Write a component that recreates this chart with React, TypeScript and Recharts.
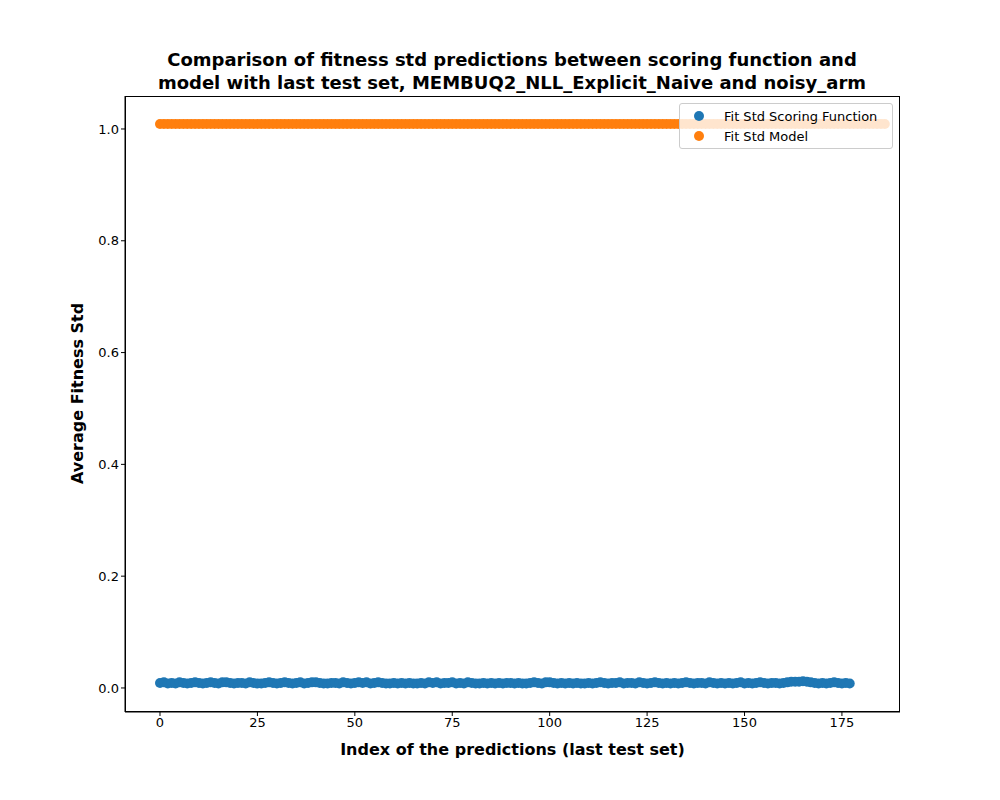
import { ScatterChart, Scatter, XAxis, YAxis } from 'recharts'

// Fit Std Scoring Function (index 0..186), 11 rows of 17
const scoringStd = [
  0.009, 0.010, 0.008, 0.009, 0.008, 0.010, 0.009, 0.008, 0.009, 0.010, 0.009, 0.008, 0.009, 0.010, 0.009, 0.008, 0.010,
  0.010, 0.009, 0.008, 0.009, 0.009, 0.008, 0.010, 0.009, 0.008, 0.008, 0.009, 0.010, 0.009, 0.008, 0.009, 0.010,
  0.009, 0.008, 0.009, 0.010, 0.008, 0.009, 0.010, 0.010, 0.009, 0.008, 0.008, 0.009, 0.009, 0.008, 0.010, 0.009,
  0.008, 0.009, 0.010, 0.009, 0.010, 0.008, 0.009, 0.010, 0.009, 0.008, 0.008, 0.009, 0.008, 0.009, 0.008, 0.009,
  0.008, 0.008, 0.009, 0.008, 0.010, 0.009, 0.010, 0.008, 0.009, 0.009, 0.010, 0.008, 0.009, 0.008, 0.010, 0.009,
  0.008, 0.008, 0.009, 0.008, 0.009, 0.008, 0.009, 0.008, 0.009, 0.009, 0.008, 0.009, 0.008, 0.008, 0.009, 0.010,
  0.009, 0.008, 0.010, 0.010, 0.009, 0.008, 0.009, 0.008, 0.009, 0.008, 0.009, 0.008, 0.008, 0.009, 0.008, 0.009,
  0.010, 0.009, 0.008, 0.009, 0.009, 0.010, 0.008, 0.009, 0.009, 0.008, 0.010, 0.009, 0.008, 0.009, 0.010, 0.009,
  0.008, 0.009, 0.008, 0.009, 0.008, 0.009, 0.010, 0.009, 0.008, 0.009, 0.009, 0.008, 0.010, 0.009, 0.008, 0.009,
  0.008, 0.009, 0.008, 0.009, 0.010, 0.008, 0.009, 0.008, 0.009, 0.010, 0.009, 0.008, 0.009, 0.009, 0.008, 0.009,
  0.010, 0.011, 0.011, 0.011, 0.012, 0.011, 0.010, 0.009, 0.008, 0.009, 0.008, 0.009, 0.010, 0.009, 0.008, 0.009, 0.008,
]

// Fit Std Model (index 0..186)
const modelStd = [
  1.009, 1.009, 1.009, 1.009, 1.009, 1.009, 1.009, 1.009, 1.009, 1.009, 1.009, 1.009, 1.009, 1.009, 1.009, 1.009, 1.009,
  1.009, 1.009, 1.009, 1.009, 1.009, 1.009, 1.009, 1.009, 1.009, 1.009, 1.009, 1.009, 1.009, 1.009, 1.009, 1.009, 1.009,
  1.009, 1.009, 1.009, 1.009, 1.009, 1.009, 1.009, 1.009, 1.009, 1.009, 1.009, 1.009, 1.009, 1.009, 1.009, 1.009, 1.009,
  1.009, 1.009, 1.009, 1.009, 1.009, 1.009, 1.009, 1.009, 1.009, 1.009, 1.009, 1.009, 1.009, 1.009, 1.009, 1.009, 1.009,
  1.009, 1.009, 1.009, 1.009, 1.009, 1.009, 1.009, 1.009, 1.009, 1.009, 1.009, 1.009, 1.009, 1.009, 1.009, 1.009, 1.009,
  1.009, 1.009, 1.009, 1.009, 1.009, 1.009, 1.009, 1.009, 1.009, 1.009, 1.009, 1.009, 1.009, 1.009, 1.009, 1.009, 1.009,
  1.009, 1.009, 1.009, 1.009, 1.009, 1.009, 1.009, 1.009, 1.009, 1.009, 1.009, 1.009, 1.009, 1.009, 1.009, 1.009, 1.009,
  1.009, 1.009, 1.009, 1.009, 1.009, 1.009, 1.009, 1.009, 1.009, 1.009, 1.009, 1.009, 1.009, 1.009, 1.009, 1.009, 1.009,
  1.009, 1.009, 1.009, 1.009, 1.009, 1.009, 1.009, 1.009, 1.009, 1.009, 1.009, 1.009, 1.009, 1.009, 1.009, 1.009, 1.009,
  1.009, 1.009, 1.009, 1.009, 1.009, 1.009, 1.009, 1.009, 1.009, 1.009, 1.009, 1.009, 1.009, 1.009, 1.009, 1.009, 1.009,
  1.009, 1.009, 1.009, 1.009, 1.009, 1.009, 1.009, 1.009, 1.009, 1.009, 1.009, 1.009, 1.009, 1.009, 1.009, 1.009, 1.009,
]

const xTicks = [0, 25, 50, 75, 100, 125, 150, 175]
const yTicks = [0, 0.2, 0.4, 0.6, 0.8, 1.0]

const scoringData = scoringStd.map((v, i) => ({ x: i, y: v }))
const modelData = modelStd.map((v, i) => ({ x: i, y: v }))

const font = '"DejaVu Sans", sans-serif'

const dot = (color: string) => (props: any) =>
  <circle cx={props.cx} cy={props.cy} r={5} fill={color} />

export default function App() {
  return (
    <div style={{ position: 'absolute', left: 0, top: 0, width: 1000, height: 800, background: '#fff', fontFamily: font }}>
      <div style={{ position: 'absolute', top: 48, left: 0, width: 1024, textAlign: 'center', fontSize: 18, fontWeight: 'bold', lineHeight: '23px' }}>
        Comparison of fitness std predictions between scoring function and<br />
        model with last test set, MEMBUQ2_NLL_Explicit_Naive and noisy_arm
      </div>
      <ScatterChart width={1000} height={800} margin={{ top: 96, right: 100, bottom: 38, left: 65 }}>
        <XAxis
          type="number" dataKey="x" domain={[-8.98, 189.9]} ticks={xTicks} allowDataOverflow
          height={50} stroke="#000" tick={{ fill: '#000', fontSize: 13, fontFamily: font }} tickSize={4}
          label={{ value: 'Index of the predictions (last test set)', position: 'insideBottom', offset: 7, fill: '#000', fontSize: 16, fontWeight: 'bold', fontFamily: font }}
        />
        <YAxis
          type="number" dataKey="y" domain={[-0.043, 1.059]} ticks={yTicks} allowDataOverflow
          width={60} stroke="#000" tick={{ fill: '#000', fontSize: 13, fontFamily: font }} tickSize={4}
          tickFormatter={(v: number) => v.toFixed(1)}
          label={{ value: 'Average Fitness Std', angle: -90, position: 'insideLeft', offset: 12, dy: 80, fill: '#000', fontSize: 16, fontWeight: 'bold', fontFamily: font }}
        />
        <Scatter data={scoringData} fill="#1f77b4" shape={dot('#1f77b4')} isAnimationActive={false} />
        <Scatter data={modelData} fill="#ff7f0e" shape={dot('#ff7f0e')} isAnimationActive={false} />
      </ScatterChart>
      <div style={{ position: 'absolute', left: 125, top: 96, width: 775, height: 616, border: '1px solid #000', boxSizing: 'border-box', pointerEvents: 'none' }} />
      <div style={{ position: 'absolute', left: 679, top: 103, width: 214, height: 46, border: '1px solid #ccc', borderRadius: 3, background: 'rgba(255,255,255,0.8)', boxSizing: 'border-box', fontSize: 13, padding: '2px 0 0 14px' }}>
        <div style={{ display: 'flex', alignItems: 'center', height: 20 }}>
          <span style={{ width: 10, height: 10, borderRadius: 5, background: '#1f77b4', marginRight: 20 }} />Fit Std Scoring Function
        </div>
        <div style={{ display: 'flex', alignItems: 'center', height: 20 }}>
          <span style={{ width: 10, height: 10, borderRadius: 5, background: '#ff7f0e', marginRight: 20 }} />Fit Std Model
        </div>
      </div>
    </div>
  )
}
